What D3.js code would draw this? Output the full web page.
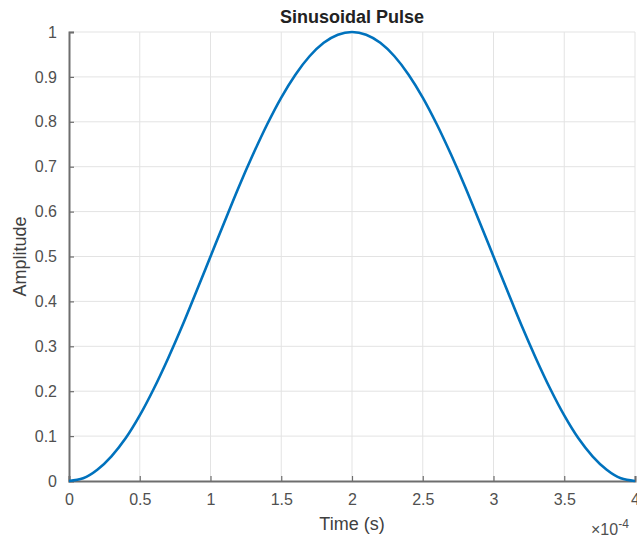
<!DOCTYPE html>
<html>
<head>
<meta charset="utf-8">
<script src="https://cdn.jsdelivr.net/npm/d3@7"></script>
<style>
  body { margin: 0; background: #fff; }
  text { font-family: "Liberation Sans", Arial, sans-serif; }
</style>
</head>
<body>
<div id="chart"></div>
<script>
// time in units of 1e-4 s
const timeValues = [0, 0.1, 0.2, 0.3, 0.4, 0.5, 0.6, 0.7, 0.8, 0.9, 1.0,
  1.1, 1.2, 1.3, 1.4, 1.5, 1.6, 1.7, 1.8, 1.9, 2.0,
  2.1, 2.2, 2.3, 2.4, 2.5, 2.6, 2.7, 2.8, 2.9, 3.0,
  3.1, 3.2, 3.3, 3.4, 3.5, 3.6, 3.7, 3.8, 3.9, 4.0];
const amplitudeValues = [0, 0.006, 0.025, 0.055, 0.095, 0.146, 0.206, 0.273, 0.345, 0.422, 0.5,
  0.578, 0.655, 0.727, 0.794, 0.854, 0.905, 0.946, 0.976, 0.994, 1.0,
  0.994, 0.976, 0.946, 0.905, 0.854, 0.794, 0.727, 0.655, 0.578, 0.5,
  0.422, 0.345, 0.273, 0.206, 0.146, 0.095, 0.055, 0.025, 0.006, 0];
const xTicks = [0, 0.5, 1, 1.5, 2, 2.5, 3, 3.5, 4];
const yTicks = [0, 0.1, 0.2, 0.3, 0.4, 0.5, 0.6, 0.7, 0.8, 0.9, 1];

const width = 637, height = 540;
const margin = { top: 32, right: 2, bottom: 59, left: 69 };
const innerW = width - margin.left - margin.right;
const innerH = height - margin.top - margin.bottom;

const svg = d3.select("#chart").append("svg")
  .attr("width", width)
  .attr("height", height);

const g = svg.append("g")
  .attr("transform", `translate(${margin.left},${margin.top})`);

const x = d3.scaleLinear().domain([0, 4]).range([0, innerW]);
const y = d3.scaleLinear().domain([0, 1]).range([innerH, 0]);

// grid
g.selectAll(".vgrid")
  .data(xTicks.slice(1))
  .join("line")
  .attr("x1", d => x(d)).attr("x2", d => x(d))
  .attr("y1", 0).attr("y2", innerH)
  .attr("stroke", "#e3e3e3").attr("stroke-width", 1);

g.selectAll(".hgrid")
  .data(yTicks.slice(1))
  .join("line")
  .attr("x1", 0).attr("x2", innerW)
  .attr("y1", d => y(d)).attr("y2", d => y(d))
  .attr("stroke", "#e3e3e3").attr("stroke-width", 1);

// axes
const xAxis = g.append("g")
  .attr("transform", `translate(0,${innerH})`)
  .call(d3.axisBottom(x).tickValues(xTicks).tickSize(-5).tickPadding(13).tickFormat(d3.format("")));
const yAxis = g.append("g")
  .call(d3.axisLeft(y).tickValues(yTicks).tickSize(-5).tickPadding(12).tickFormat(d3.format("")));

[xAxis, yAxis].forEach(a => {
  a.select(".domain").attr("stroke", "#6e6e6e").attr("stroke-width", 2);
  a.selectAll(".tick line").attr("stroke", "#6e6e6e").attr("stroke-width", 1.2);
  a.selectAll(".tick text")
    .attr("fill", "#505050")
    .style("font-size", "16px")
    .style("font-family", "'Liberation Sans', Arial, sans-serif");
});

// curve
const line = d3.line()
  .x((d, i) => x(timeValues[i]))
  .y(d => y(d))
  .curve(d3.curveMonotoneX);

g.append("path")
  .datum(amplitudeValues)
  .attr("d", line)
  .attr("fill", "none")
  .attr("stroke", "#0072BD")
  .attr("stroke-width", 2.6);

// title and labels
svg.append("text")
  .attr("x", margin.left + innerW / 2)
  .attr("y", 23)
  .attr("text-anchor", "middle")
  .style("font-size", "18px")
  .style("font-weight", "bold")
  .attr("fill", "#222")
  .text("Sinusoidal Pulse");

svg.append("text")
  .attr("x", margin.left + innerW / 2)
  .attr("y", 530)
  .attr("text-anchor", "middle")
  .style("font-size", "18px")
  .attr("fill", "#404040")
  .text("Time (s)");

svg.append("text")
  .attr("transform", `translate(26,${margin.top + innerH / 2}) rotate(-90)`)
  .attr("text-anchor", "middle")
  .style("font-size", "18px")
  .attr("fill", "#404040")
  .text("Amplitude");

const exp = svg.append("text")
  .attr("x", 591)
  .attr("y", 535)
  .attr("fill", "#505050")
  .style("font-size", "16px");
exp.append("tspan").text("\u00d710");
exp.append("tspan").attr("dy", -7).style("font-size", "12px").text("-4");
</script>
</body>
</html>
